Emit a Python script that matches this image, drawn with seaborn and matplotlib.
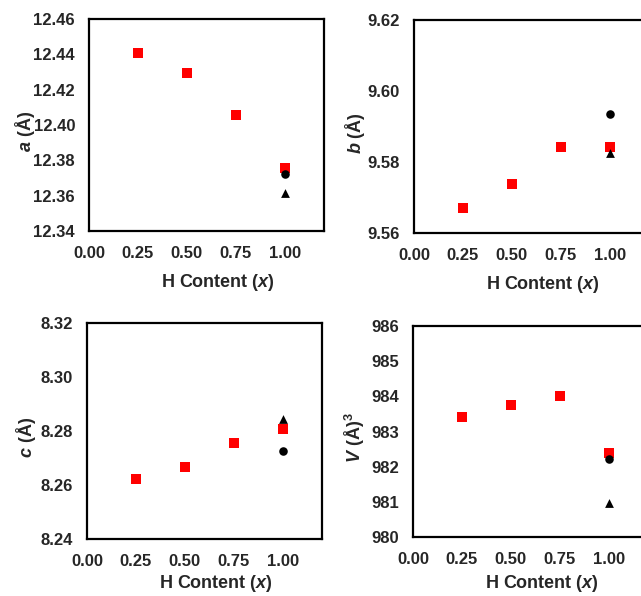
import numpy as np
import pandas as pd
import matplotlib
matplotlib.use("Agg")
import matplotlib.pyplot as plt
import seaborn as sns

# ---- data ----
x_series = [0.25, 0.50, 0.75, 1.00]
x_ref = [1.00]

a_sq = [12.4406, 12.4296, 12.4057, 12.3758]
a_circ = [12.3723]
a_tri = [12.3617]

b_sq = [9.5670, 9.5738, 9.5842, 9.5842]
b_circ = [9.5935]
b_tri = [9.5826]

c_sq = [8.2622, 8.2667, 8.2756, 8.2809]
c_circ = [8.2727]
c_tri = [8.2843]

v_sq = [983.42, 983.76, 984.01, 982.40]
v_circ = [982.21]
v_tri = [980.98]

xticks = [0.00, 0.25, 0.50, 0.75, 1.00]
xtick_labels = ["0.00", "0.25", "0.50", "0.75", "1.00"]

a_ticks = [12.34, 12.36, 12.38, 12.40, 12.42, 12.44, 12.46]
b_ticks = [9.56, 9.58, 9.60, 9.62]
c_ticks = [8.24, 8.26, 8.28, 8.30, 8.32]
v_ticks = [980, 981, 982, 983, 984, 985, 986]

sns.set_style("white")
plt.rcParams["font.family"] = ["Liberation Sans", "DejaVu Sans"]
plt.rcParams["font.weight"] = "bold"
plt.rcParams["mathtext.fontset"] = "custom"
plt.rcParams["mathtext.it"] = "Liberation Sans:bold:italic"
plt.rcParams["mathtext.rm"] = "Liberation Sans:bold"
plt.rcParams["mathtext.bf"] = "Liberation Sans:bold"

W, H = 641, 596
fig = plt.figure(figsize=(W / 100, H / 100), dpi=100)

def px_axes(left, top, width, bottom):
    return fig.add_axes([left / W, 1 - bottom / H, width / W, (bottom - top) / H])

panels = [
    # (left, top, width, bottom), sq, circ, tri, ylim, yticks, fmt, ylabel, ylabel_x, xlabel_top_px
    ((89, 19, 235, 231), a_sq, a_circ, a_tri, (12.34, 12.46), a_ticks, "{:.2f}", r"$a$ (Å)", -0.22, 272),
    ((414, 20, 235, 233), b_sq, b_circ, b_tri, (9.56, 9.62), b_ticks, "{:.2f}", r"$b$ (Å)", -0.20, 274),
    ((87, 323, 235, 539), c_sq, c_circ, c_tri, (8.24, 8.32), c_ticks, "{:.2f}", r"$c$ (Å)", -0.21, 573),
    ((413, 326, 235, 537), v_sq, v_circ, v_tri, (980, 986), v_ticks, "{:.0f}", r"$V$ (Å)$^3$", -0.195, 573),
]

palette = {"sq": "#ff0000", "circ": "#000000", "tri": "#000000"}
markers = {"sq": "s", "circ": "o", "tri": "^"}
sizes = {"sq": 48, "circ": 38, "tri": 40}

for (box, sq, circ, tri, ylim, yticks, fmt, ylabel, ylx, xl_top) in panels:
    ax = px_axes(box[0], box[1], box[2], box[3])
    df = pd.DataFrame({
        "x": list(x_series) + list(x_ref) + list(x_ref),
        "y": list(sq) + list(circ) + list(tri),
        "s": ["sq"] * len(sq) + ["circ"] * len(circ) + ["tri"] * len(tri),
    })
    for key in ["sq", "circ", "tri"]:
        sub = df[df["s"] == key]
        sns.scatterplot(data=sub, x="x", y="y", ax=ax, color=palette[key],
                        marker=markers[key], s=sizes[key], linewidth=0,
                        legend=False, zorder=3)
    ax.set_xlim(0, 1.2)
    ax.set_ylim(*ylim)
    ax.set_xticks(xticks)
    ax.set_xticklabels(xtick_labels)
    ax.set_yticks(yticks)
    ax.set_yticklabels([fmt.format(t) for t in yticks])
    ax.tick_params(axis="both", direction="in", length=3, width=1.2,
                   labelsize=12, color="black")
    ax.tick_params(axis="x", pad=11)
    ax.tick_params(axis="y", pad=10)
    for lab in ax.get_xticklabels() + ax.get_yticklabels():
        lab.set_fontweight("bold")
    for sp in ax.spines.values():
        sp.set_visible(True)
        sp.set_color("black")
        sp.set_linewidth(1.6)
    ax.set_xlabel("H Content ($x$)", fontsize=13, fontweight="bold")
    ax.set_ylabel(ylabel, fontsize=13, fontweight="bold")
    hpx = box[3] - box[1]
    ax.xaxis.set_label_coords(0.55, -(xl_top - box[3]) / hpx)
    ax.yaxis.set_label_coords(ylx, 0.47)
    ax.grid(False)

fig.savefig("out.png", dpi=100)
